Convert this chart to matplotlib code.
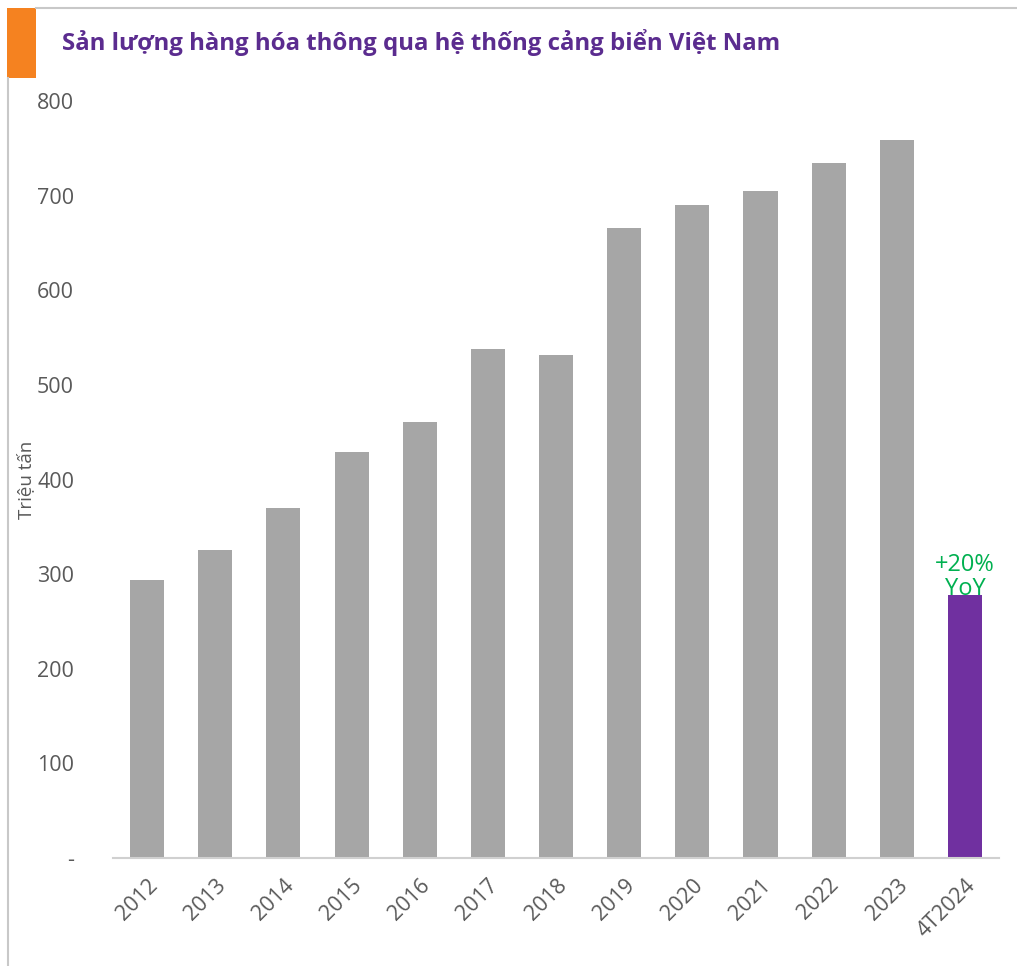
import matplotlib.pyplot as plt
from matplotlib.patches import Rectangle
from matplotlib.lines import Line2D

categories = ['2012', '2013', '2014', '2015', '2016', '2017', '2018',
              '2019', '2020', '2021', '2022', '2023', '4T2024']
values = [294, 326, 370, 429, 461, 538, 532, 666, 690, 705, 735, 759, 278]
bar_colors = ['#A6A6A6'] * 12 + ['#7030A0']
yticks = [0, 100, 200, 300, 400, 500, 600, 700, 800]
ytick_labels = ['-', '100', '200', '300', '400', '500', '600', '700', '800']

plt.rcParams['font.family'] = ['Open Sans', 'DejaVu Sans']

W, H = 1017, 966
fig = plt.figure(figsize=(W / 100, H / 100), dpi=100)

# khung: vạch cam + viền xám
fig.add_artist(Rectangle((7 / W, 1 - 78 / H), 29 / W, 70 / H,
                         transform=fig.transFigure, color='#F58220', lw=0))
fig.add_artist(Line2D([36 / W, 1], [1 - 8 / H, 1 - 8 / H],
                      transform=fig.transFigure, color='#C8C8C8', lw=1.5))
fig.add_artist(Line2D([8 / W, 8 / W], [0, 1 - 78 / H],
                      transform=fig.transFigure, color='#C8C8C8', lw=1.5))

fig.text(62 / W, 1 - 43 / H, 'Sản lượng hàng hóa thông qua hệ thống cảng biển Việt Nam',
         color='#5B2C8F', fontsize=17.3, fontweight='bold', va='center', ha='left')

ax = fig.add_axes([113 / W, 1 - 858 / H, (999 - 113) / W, (858 - 101) / H])
x = range(len(categories))
ax.bar(x, values, width=0.5, color=bar_colors)

ax.set_xlim(-0.5, len(categories) - 0.5)
ax.set_ylim(0, 800)
ax.set_yticks(yticks)
ax.set_yticklabels(ytick_labels)
ax.set_xticks(list(x))
ax.set_xticklabels(categories, rotation=45, ha='right', rotation_mode='anchor')
ax.tick_params(length=0, labelsize=15.5, labelcolor='#595959')
ax.tick_params(axis='y', pad=28)
ax.tick_params(axis='x', pad=12)

for s in ['top', 'right', 'left']:
    ax.spines[s].set_visible(False)
ax.spines['bottom'].set_color('#D0D0D0')
ax.spines['bottom'].set_linewidth(1.5)

ax.set_ylabel('Triệu tấn', fontsize=13.5, color='#595959')
ax.yaxis.set_label_coords(-0.088, 0.5)

ax.text(12, values[12] - 6, '+20%\nYoY', color='#00B050', fontsize=17,
        ha='center', va='bottom', linespacing=1.0)

fig.savefig('out.png', dpi=100)
